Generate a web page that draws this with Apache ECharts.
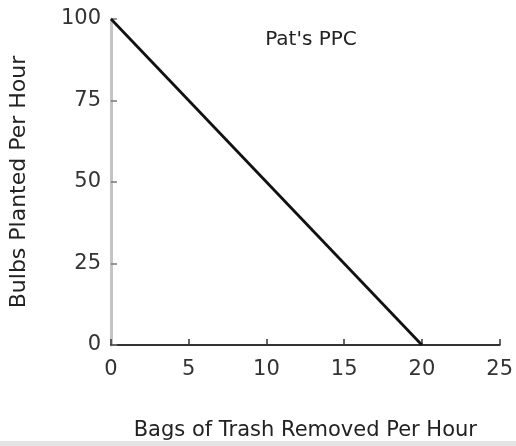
<!DOCTYPE html>
<html>
<head>
<meta charset="utf-8">
<script src="https://cdn.jsdelivr.net/npm/echarts@6/dist/echarts.min.js"></script>
<style>html,body{margin:0;padding:0;background:#fff}#c{width:516px;height:446px}</style>
</head>
<body>
<div id="c"></div>
<script>
var bagsOfTrash = [0, 20];
var bulbsPlanted = [100, 0];
var xTicks = [0, 5, 10, 15, 20, 25];
var yTicks = [0, 25, 50, 75, 100];
var titleText = "Pat's PPC";
var xName = "Bags of Trash Removed Per Hour";
var yName = "Bulbs Planted Per Hour";

var chart = echarts.init(document.getElementById('c'), null, {renderer: 'canvas'});
var font = 'DejaVu Sans';
chart.setOption({
  animation: false,
  backgroundColor: '#fff',
  title: {
    text: titleText, left: 306, top: 25, textAlign: 'center',
    textStyle: {fontFamily: font, fontSize: 20, fontWeight: 'normal', color: '#222'}
  },
  grid: {left: 110, right: 12, top: 19, bottom: 99},
  xAxis: {
    type: 'value', min: xTicks[0], max: xTicks[xTicks.length - 1], interval: 5,
    name: xName, nameLocation: 'middle', nameGap: 75,
    nameTextStyle: {fontFamily: font, fontSize: 21, color: '#222'},
    axisLine: {show: true, onZero: false, lineStyle: {color: '#333', width: 2}},
    axisTick: {show: true, inside: true, length: 6, lineStyle: {color: '#333', width: 1.5}},
    axisLabel: {fontFamily: font, fontSize: 21, color: '#333', margin: 14},
    splitLine: {show: false}
  },
  yAxis: {
    type: 'value', min: yTicks[0], max: yTicks[yTicks.length - 1], interval: 25,
    name: yName, nameLocation: 'middle', nameGap: 81, nameRotate: 90,
    nameTextStyle: {fontFamily: font, fontSize: 22, color: '#222'},
    axisLine: {show: true, onZero: false, lineStyle: {color: '#c4c4c4', width: 3}},
    axisTick: {show: true, inside: true, length: 6, lineStyle: {color: '#777', width: 1.5}},
    axisLabel: {fontFamily: font, fontSize: 21, color: '#333', margin: 10},
    splitLine: {show: false}
  },
  series: [{
    type: 'line',
    data: bagsOfTrash.map(function (x, i) { return [x, bulbsPlanted[i]]; }),
    symbol: 'none',
    lineStyle: {color: '#111', width: 2.8},
    z: 5
  }],
  graphic: [{
    type: 'rect', shape: {x: 0, y: 441, width: 516, height: 5},
    style: {fill: '#e4e4e4'}
  }]
});
</script>
</body>
</html>
